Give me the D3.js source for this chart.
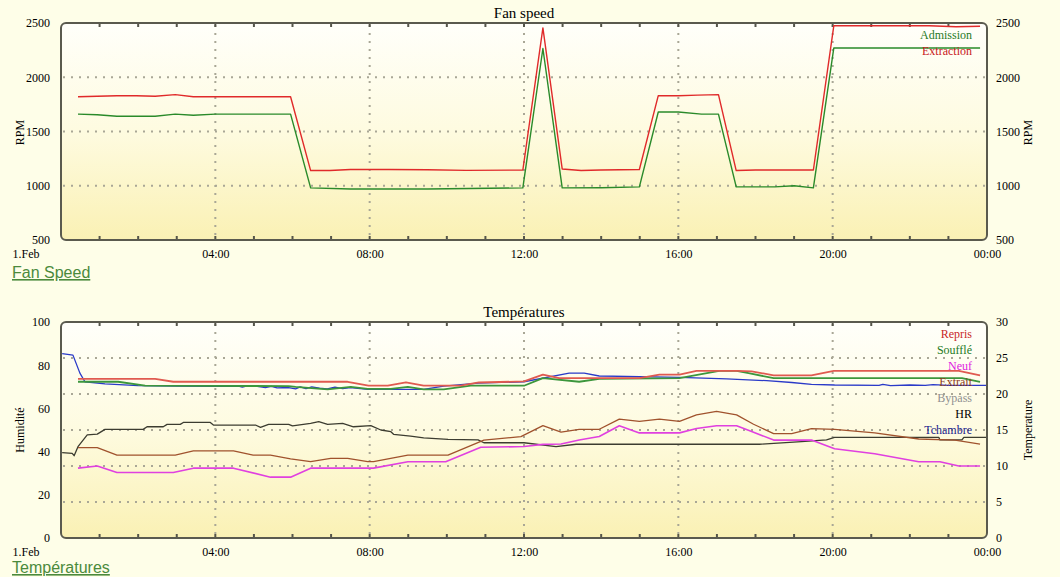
<!DOCTYPE html>
<html>
<head>
<meta charset="utf-8">
<script src="https://cdn.jsdelivr.net/npm/d3@7"></script>
<style>
  html, body { margin: 0; padding: 0; background: #FEFEE8; }
  svg { display: block; }
</style>
</head>
<body>
<svg id="chart" width="1060" height="577"></svg>
<script>
// ---------- DATA (hours since 1.Feb 00:00, value) ----------
const hourTicks = [0, 4, 8, 12, 16, 20, 24];
const hourLabels = ["1.Feb", "04:00", "08:00", "12:00", "16:00", "20:00", "00:00"];
const rpmTicks = [500, 1000, 1500, 2000, 2500];
const humTicks = [0, 20, 40, 60, 80, 100];
const tempTicks = [0, 5, 10, 15, 20, 25, 30];

const fanNames = ["Admission", "Extraction"];
const admission = [[0.44,1660],[0.94,1655],[1.45,1640],[2.44,1640],[2.96,1660],[3.43,1650],[4.0,1660],[5.95,1660],[6.47,980],[7.5,970],[9.5,970],[11.97,980],[12.49,2265],[12.99,980],[14.0,982],[14.99,990],[15.48,1680],[16.0,1680],[16.6,1660],[17.04,1660],[17.5,990],[18.5,990],[19.0,1000],[19.5,980],[20.03,2270],[23.82,2270]];
const extraction = [[0.44,1820],[0.94,1825],[1.45,1830],[1.95,1830],[2.44,1825],[2.96,1840],[3.43,1820],[5.95,1820],[6.47,1140],[6.97,1140],[7.5,1150],[8.5,1150],[9.5,1148],[10.5,1142],[11.97,1145],[12.49,2455],[12.99,1155],[13.48,1140],[13.99,1145],[14.99,1150],[15.48,1830],[16.0,1830],[16.5,1835],[17.04,1840],[17.5,1140],[18.0,1145],[19.5,1145],[20.03,2475],[22.5,2475],[23.2,2465],[23.82,2470]];

const tempNames = ["Repris", "Soufflé", "Neuf", "Extrait", "Bypass", "HR", "Tchambre"];
const repris = [[0.44,22.1],[2.44,22.1],[2.91,21.7],[7.43,21.7],[7.97,21.15],[8.47,21.15],[8.94,21.6],[9.4,21.15],[10.36,21.15],[10.83,21.6],[12.0,21.75],[12.49,22.7],[12.91,22.2],[14.99,22.2],[15.51,22.7],[16.03,22.7],[16.47,23.2],[17.51,23.2],[17.9,23.15],[18.47,22.6],[19.45,22.6],[20.03,23.2],[23.27,23.2],[23.82,22.6]];
const souffle = [[0.44,21.7],[1.48,21.7],[2.18,21.15],[5.9,21.1],[6.08,21.0],[6.91,20.65],[7.51,21.0],[7.95,20.7],[8.55,20.7],[8.99,21.0],[9.4,20.65],[9.92,20.65],[10.62,21.15],[12.0,21.15],[12.49,22.2],[13.43,21.7],[13.95,22.1],[16.03,22.2],[17.06,23.2],[17.51,23.2],[17.82,22.9],[18.47,22.2],[23.35,22.2],[23.82,21.7]];
const neuf = [[0.44,9.7],[0.94,10.0],[1.45,9.1],[2.91,9.1],[3.43,9.7],[4.47,9.7],[5.43,8.45],[5.95,8.45],[6.47,9.7],[8.1,9.7],[8.99,10.6],[9.97,10.6],[10.88,12.6],[12.0,12.7],[12.49,13.0],[12.96,13.05],[13.43,13.6],[13.95,14.1],[14.47,15.6],[14.99,14.6],[16.03,14.6],[16.47,15.2],[16.99,15.6],[17.51,15.6],[17.9,14.8],[18.47,13.6],[19.45,13.6],[20.05,12.4],[21.09,11.7],[22.23,10.6],[22.78,10.6],[23.27,10.0],[23.82,10.0]];
const extrait = [[0.44,12.55],[0.94,12.55],[1.45,11.5],[2.96,11.5],[3.43,12.1],[4.47,12.1],[4.98,11.5],[5.43,11.5],[5.95,11.0],[6.47,10.6],[6.99,11.07],[7.43,11.07],[7.95,10.6],[8.1,10.6],[8.99,11.5],[10.03,11.5],[10.96,13.6],[11.92,14.07],[12.49,15.6],[12.96,14.7],[13.43,15.1],[13.95,15.1],[14.47,16.5],[14.99,16.2],[15.51,16.5],[16.03,16.2],[16.47,17.1],[16.99,17.6],[17.51,17.1],[17.95,15.8],[18.47,14.5],[18.94,14.5],[19.45,15.2],[20.05,15.1],[21.09,14.6],[22.23,13.75],[23.17,13.6],[23.82,13.05]];
const tchambre = [[0.03,25.6],[0.31,25.4],[0.49,22.9],[0.62,21.7],[1.14,21.4],[2.0,21.15],[3.0,21.1],[4.0,21.05],[4.6,21.1],[4.7,20.95],[4.8,21.1],[5.04,21.1],[5.3,20.9],[5.45,21.05],[5.6,20.85],[5.9,20.9],[6.08,20.7],[6.2,21.0],[6.35,20.75],[6.5,21.0],[6.7,20.8],[6.9,20.7],[7.1,20.95],[7.3,20.75],[7.5,20.9],[7.95,20.65],[9.4,20.65],[9.92,21.1],[10.81,21.5],[12.0,21.7],[13.17,22.9],[13.56,22.9],[13.95,22.5],[14.99,22.4],[16.03,22.3],[17.25,22.1],[18.29,21.85],[18.94,21.6],[19.45,21.35],[20.05,21.25],[21.2,21.2],[21.3,21.35],[21.5,21.15],[22.0,21.25],[22.4,21.2],[22.6,21.3],[23.0,21.2],[24.0,21.2]];
const hr = [[0.03,39.5],[0.29,39.2],[0.34,38.1],[0.44,42.3],[0.68,47.7],[0.94,48.1],[1.14,50.3],[2.13,50.3],[2.23,51.5],[2.65,51.5],[2.75,52.6],[3.09,52.6],[3.17,53.5],[3.87,53.5],[3.95,52.3],[5.04,52.3],[5.17,51.2],[5.38,52.6],[5.9,52.6],[6.0,51.9],[6.47,53.1],[6.68,53.9],[6.91,52.6],[7.3,53.1],[7.58,51.5],[8.03,52.0],[8.29,50.0],[8.55,49.2],[8.62,48.0],[9.06,47.2],[9.4,46.4],[10.03,45.7],[10.81,45.4],[10.96,44.1],[12.0,44.1],[12.83,42.3],[13.35,43.4],[18.1,43.4],[19.19,44.6],[19.84,45.4],[20.05,46.6],[22.75,46.6],[22.78,45.4],[23.35,45.4],[23.4,46.6],[24.0,46.6]];

// ---------- LAYOUT ----------
const svg = d3.select("#chart");
const X0 = 61, X1 = 987;
const serif = "'Liberation Serif','Times New Roman',serif";
const sans = "'Liberation Sans',Arial,sans-serif";
const x = d3.scaleLinear().domain([0, 24]).range([X0, X1]);
const fmt = d3.format("d");

const defs = svg.append("defs");
const grad = defs.append("linearGradient").attr("id", "bg")
  .attr("x1", 0).attr("y1", 0).attr("x2", 0).attr("y2", 1);
grad.append("stop").attr("offset", "0%").attr("stop-color", "#FFFFFA");
grad.append("stop").attr("offset", "50%").attr("stop-color", "#FEFBE0");
grad.append("stop").attr("offset", "100%").attr("stop-color", "#FAF1B4");

function panel(cfg) {
  const { id, y0, y1 } = cfg;
  const g = svg.append("g");
  defs.append("clipPath").attr("id", "clip" + id).append("rect")
    .attr("x", X0).attr("y", y0).attr("width", X1 - X0).attr("height", y1 - y0);

  g.append("rect").attr("x", X0).attr("y", y0).attr("width", X1 - X0).attr("height", y1 - y0)
    .attr("rx", 5).attr("fill", "url(#bg)");

  // horizontal dotted grid
  g.append("g").selectAll("line").data(cfg.gridValues).join("line")
    .attr("x1", X0 + 2).attr("x2", X1 - 2)
    .attr("y1", d => cfg.gridScale(d)).attr("y2", d => cfg.gridScale(d))
    .attr("stroke", "#A9A796").attr("stroke-width", 2).attr("stroke-dasharray", "2,6");
  // vertical dotted grid
  g.append("g").selectAll("line").data(hourTicks.slice(1, -1)).join("line")
    .attr("x1", d => x(d)).attr("x2", d => x(d))
    .attr("y1", y0 + 2).attr("y2", y1 - 2)
    .attr("stroke", "#A9A796").attr("stroke-width", 2).attr("stroke-dasharray", "2,6");

  // hourly tick marks top & bottom
  const hours = d3.range(1, 24);
  g.append("g").selectAll("line").data(hours).join("line")
    .attr("x1", d => x(d)).attr("x2", d => x(d)).attr("y1", y0).attr("y2", y0 + 4)
    .attr("stroke", "#55554A").attr("stroke-width", 2);
  g.append("g").selectAll("line").data(hours).join("line")
    .attr("x1", d => x(d)).attr("x2", d => x(d)).attr("y1", y1 - 4).attr("y2", y1)
    .attr("stroke", "#55554A").attr("stroke-width", 2);

  // series
  const lg = g.append("g").attr("clip-path", `url(#clip${id})`);
  cfg.series.forEach(s => {
    const line = d3.line().x(d => x(d[0])).y(d => s.scale(d[1]));
    lg.append("path").datum(s.data).attr("d", line)
      .attr("fill", "none").attr("stroke", s.color).attr("stroke-width", s.width)
      .attr("stroke-linejoin", "round");
  });

  // border
  g.append("rect").attr("x", X0).attr("y", y0).attr("width", X1 - X0).attr("height", y1 - y0)
    .attr("rx", 5).attr("fill", "none").attr("stroke", "#5A5A4E").attr("stroke-width", 2);

  // axes
  const styleAxis = a => {
    a.select(".domain").remove();
    a.attr("font-family", serif).attr("font-size", 12);
    a.selectAll("text").attr("fill", "#000");
  };
  const ax = g.append("g").attr("transform", `translate(0,${y1})`)
    .call(d3.axisBottom(x).tickValues(hourTicks).tickFormat((d, i) => hourLabels[i]).tickSize(0).tickPadding(9));
  styleAxis(ax);
  ax.selectAll(".tick").filter(d => d === 0).select("text").attr("text-anchor", "start").attr("dx", -49);

  const al = g.append("g").attr("transform", `translate(${X0},0)`)
    .call(d3.axisLeft(cfg.leftScale).tickValues(cfg.leftTicks).tickFormat(fmt).tickSize(0).tickPadding(11));
  styleAxis(al);
  const ar = g.append("g").attr("transform", `translate(${X1},0)`)
    .call(d3.axisRight(cfg.rightScale).tickValues(cfg.rightTicks).tickFormat(fmt).tickSize(0).tickPadding(9));
  styleAxis(ar);

  const midY = (y0 + y1) / 2 + cfg.titleShift;
  g.append("text").attr("transform", `translate(24,${midY}) rotate(-90)`)
    .attr("text-anchor", "middle").attr("font-family", serif).attr("font-size", 12)
    .text(cfg.leftTitle);
  g.append("text").attr("transform", `translate(1032,${midY}) rotate(-90)`)
    .attr("text-anchor", "middle").attr("font-family", serif).attr("font-size", 12)
    .text(cfg.rightTitle);

  // chart title
  g.append("text").attr("x", 524).attr("y", y0 - 5).attr("text-anchor", "middle")
    .attr("font-family", serif).attr("font-size", 15).text(cfg.title);

  // legend
  g.append("g").selectAll("text").data(cfg.legend).join("text")
    .attr("x", 972).attr("y", (d, i) => y0 + 16 + i * 16)
    .attr("text-anchor", "end").attr("font-family", serif).attr("font-size", 12)
    .attr("fill", d => d.color).text(d => d.name);

  // link text
  g.append("text").attr("x", 12).attr("y", cfg.linkY)
    .attr("font-family", sans).attr("font-size", 16).attr("fill", "#4B8A3C")
    .style("text-decoration", "underline").text(cfg.link);
}

// Fan speed panel
const yRpm = d3.scaleLinear().domain([500, 2500]).range([240, 23]);
panel({
  id: 1, y0: 23, y1: 240, title: "Fan speed",
  gridScale: yRpm, gridValues: [1000, 1500, 2000],
  leftScale: yRpm, leftTicks: rpmTicks, rightScale: yRpm, rightTicks: rpmTicks,
  leftTitle: "RPM", rightTitle: "RPM", titleShift: 1,
  series: [
    { data: admission, scale: yRpm, color: "#2A8A2A", width: 1.4 },
    { data: extraction, scale: yRpm, color: "#E02A2A", width: 1.4 }
  ],
  legend: [
    { name: fanNames[0], color: "#1F7A1F" },
    { name: fanNames[1], color: "#C82020" }
  ],
  link: "Fan Speed", linkY: 278
});

// Temperatures panel
const yHum = d3.scaleLinear().domain([0, 100]).range([538, 322]);
const yTemp = d3.scaleLinear().domain([0, 30]).range([538, 322]);
panel({
  id: 2, y0: 322, y1: 538, title: "Températures",
  gridScale: yTemp, gridValues: [5, 10, 15, 20, 25],
  leftScale: yHum, leftTicks: humTicks, rightScale: yTemp, rightTicks: tempTicks,
  leftTitle: "Humidité", rightTitle: "Temperature", titleShift: 0,
  series: [
    { data: hr, scale: yHum, color: "#3C3C30", width: 1.3 },
    { data: extrait, scale: yTemp, color: "#A0522D", width: 1.3 },
    { data: neuf, scale: yTemp, color: "#E040E0", width: 1.6 },
    { data: tchambre, scale: yTemp, color: "#2A3AC8", width: 1.3 },
    { data: souffle, scale: yTemp, color: "#3C963C", width: 1.8 },
    { data: repris, scale: yTemp, color: "#E05A50", width: 1.8 }
  ],
  legend: [
    { name: tempNames[0], color: "#C82828" },
    { name: tempNames[1], color: "#1F7A1F" },
    { name: tempNames[2], color: "#E020E0" },
    { name: tempNames[3], color: "#8B3A1A" },
    { name: tempNames[4], color: "#909090" },
    { name: tempNames[5], color: "#000000" },
    { name: tempNames[6], color: "#1A1A8C" }
  ],
  link: "Températures", linkY: 573
});
</script>
</body>
</html>
